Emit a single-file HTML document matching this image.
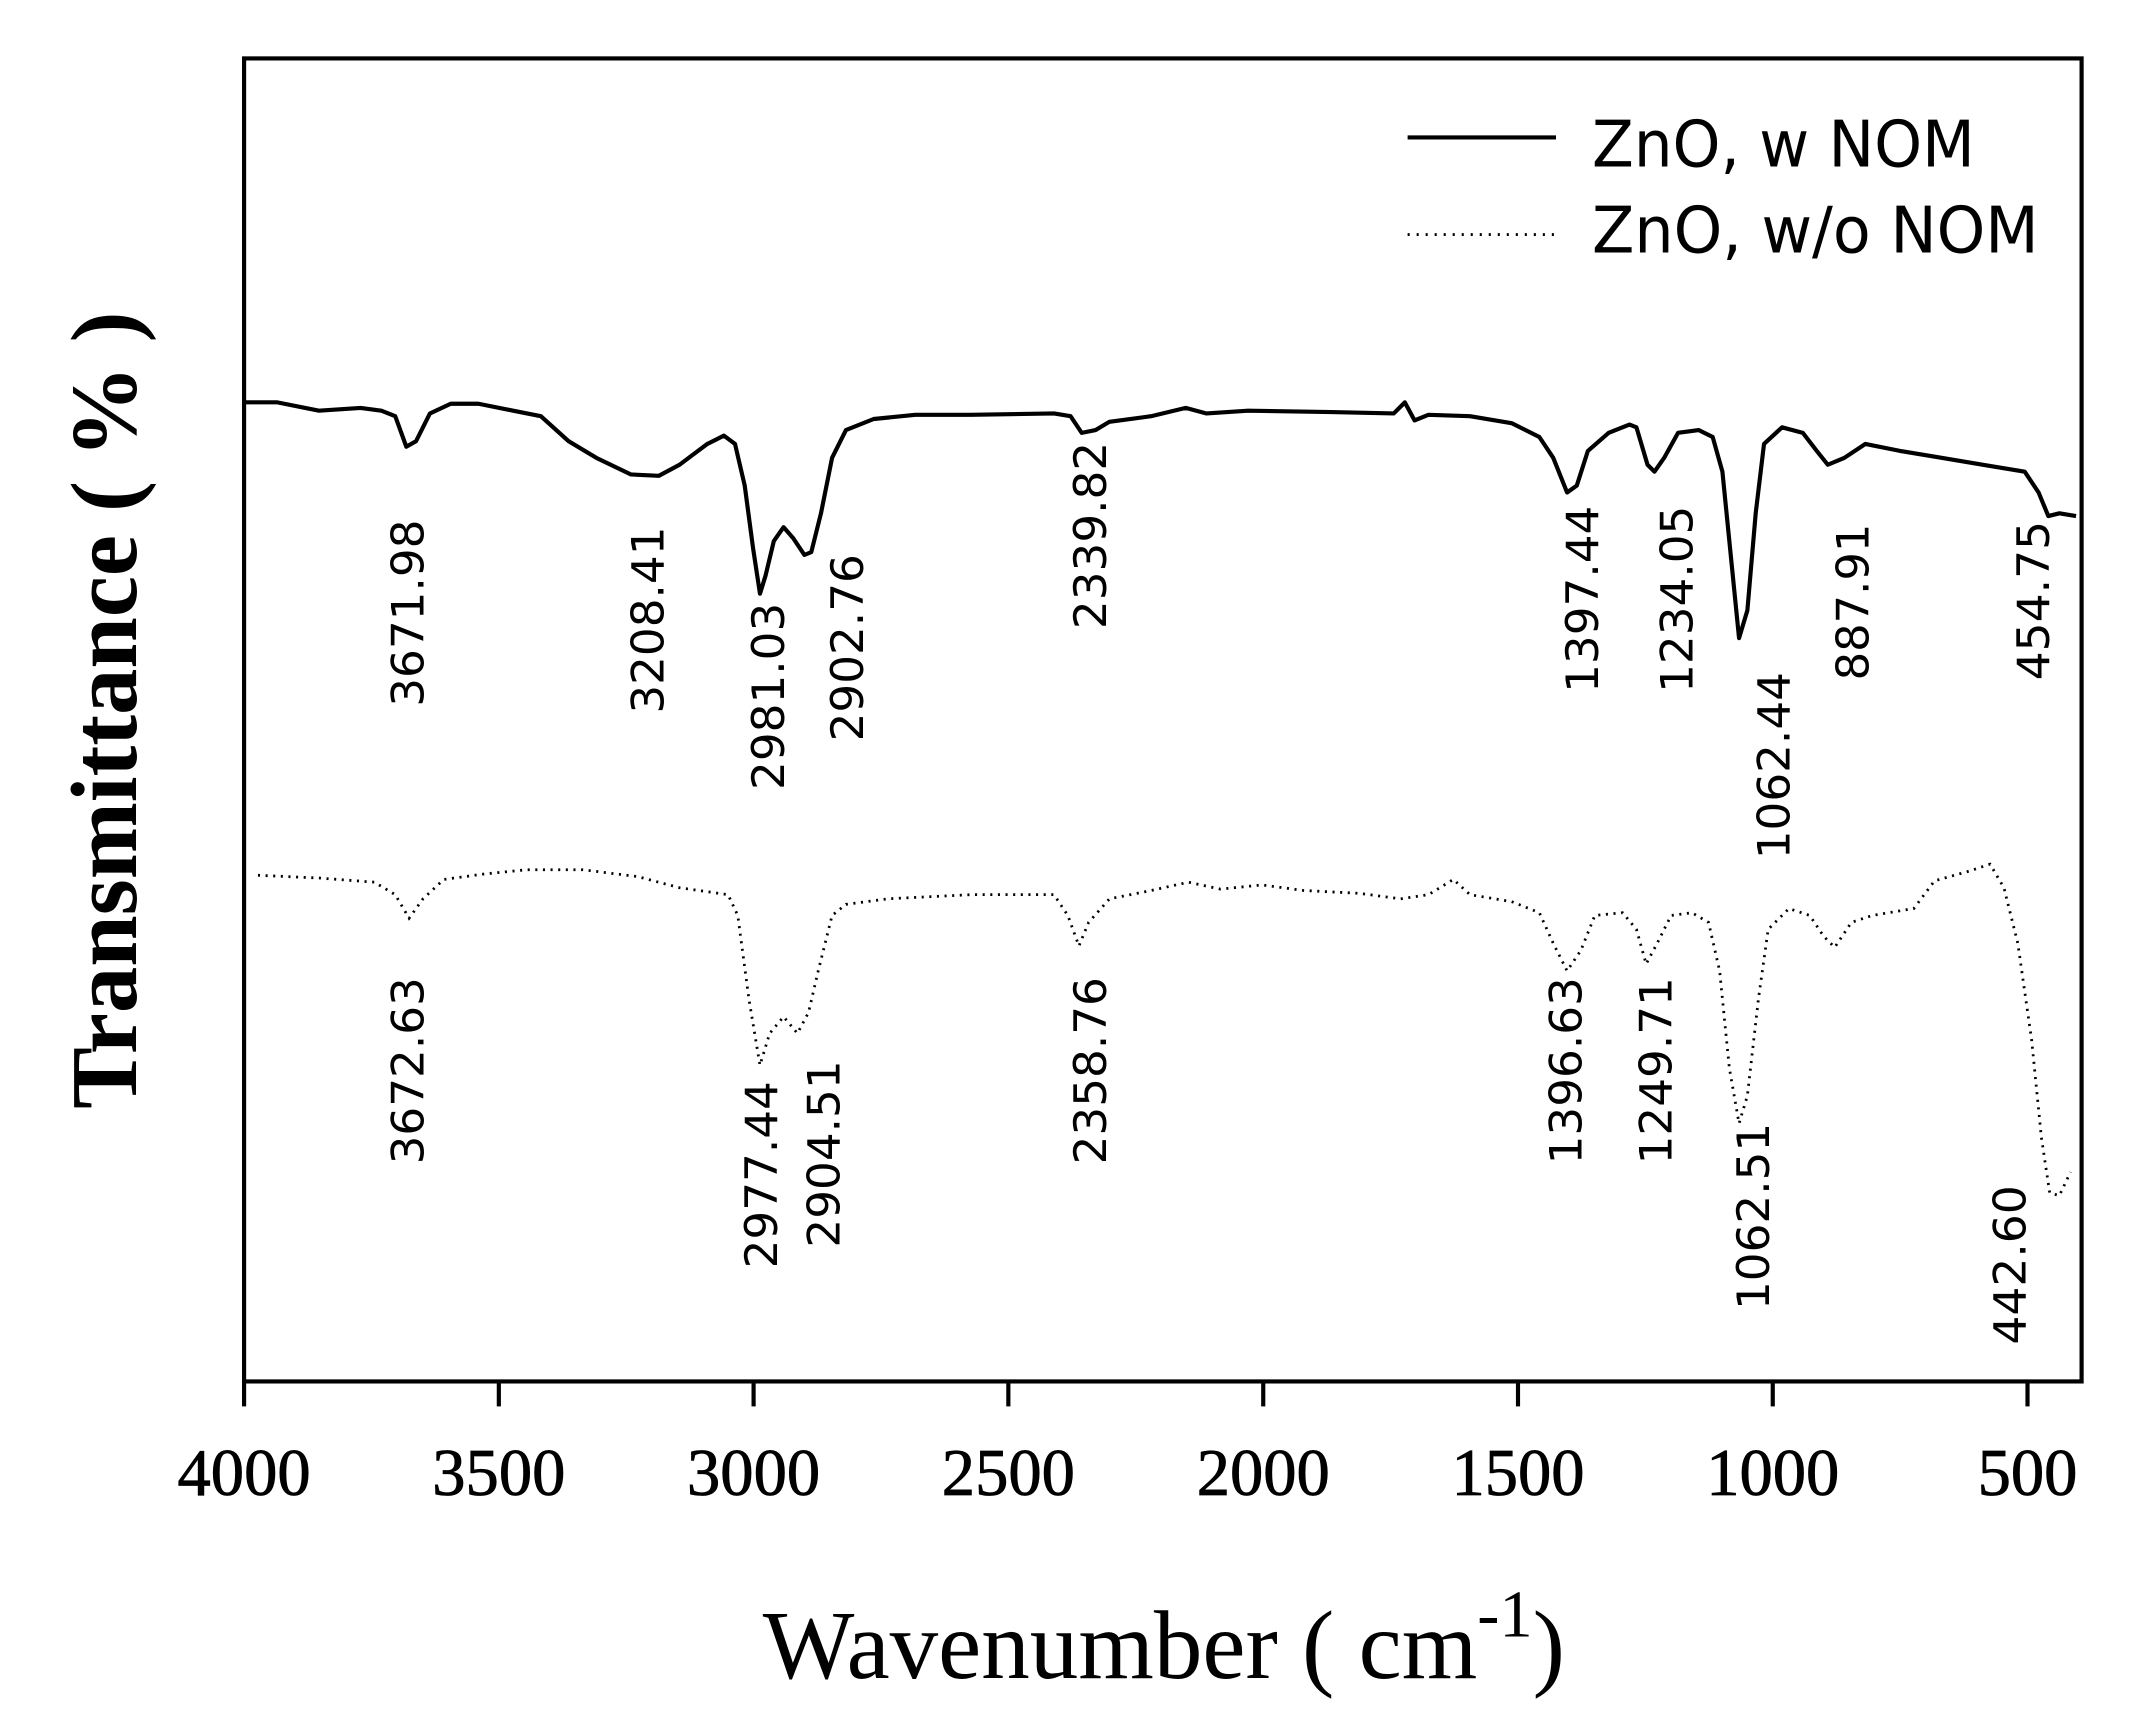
<!DOCTYPE html>
<html><head><meta charset="utf-8"><style>html,body{margin:0;padding:0;background:#fff}svg{display:block}</style></head>
<body>
<svg width="2144" height="1720" viewBox="0 0 1546 1240" xmlns="http://www.w3.org/2000/svg">
<rect width="1546" height="1240" fill="#fff"/>
<rect x="176" y="42" width="1325" height="954" fill="none" stroke="#000" stroke-width="3"/>
<g stroke="#000" stroke-width="3">
<line x1="176" y1="996" x2="176" y2="1014"/><line x1="359.7" y1="996" x2="359.7" y2="1014"/><line x1="543.4" y1="996" x2="543.4" y2="1014"/><line x1="727.1" y1="996" x2="727.1" y2="1014"/><line x1="910.9" y1="996" x2="910.9" y2="1014"/><line x1="1094.6" y1="996" x2="1094.6" y2="1014"/><line x1="1278.3" y1="996" x2="1278.3" y2="1014"/><line x1="1462" y1="996" x2="1462" y2="1014"/>
</g>
<g font-family="Liberation Serif, serif" font-size="48" text-anchor="middle" stroke="#000" stroke-width="0.6">
<text x="176" y="1078">4000</text><text x="359.7" y="1078">3500</text><text x="543.4" y="1078">3000</text><text x="727.1" y="1078">2500</text><text x="910.9" y="1078">2000</text><text x="1094.6" y="1078">1500</text><text x="1278.3" y="1078">1000</text><text x="1462" y="1078">500</text>
</g>
<text x="550" y="1210" font-family="Liberation Serif, serif" font-size="70">Wavenumber ( cm<tspan dy="-30" font-size="48">-1</tspan><tspan dy="30">)</tspan></text>
<text transform="translate(98,512) rotate(-90)" text-anchor="middle" font-family="Liberation Serif, serif" font-weight="bold" font-size="68" textLength="575" lengthAdjust="spacingAndGlyphs">Transmittance ( % )</text>
<line x1="1015" y1="99" x2="1122" y2="99" stroke="#000" stroke-width="3"/>
<line x1="1015" y1="169" x2="1122" y2="169" stroke="#000" stroke-width="2" stroke-dasharray="1.5 5"/>
<g font-family="DejaVu Sans Condensed, DejaVu Sans, sans-serif" font-size="46">
<text x="1148" y="120" textLength="276" lengthAdjust="spacingAndGlyphs">ZnO, w NOM</text>
<text x="1148" y="182" textLength="322" lengthAdjust="spacingAndGlyphs">ZnO, w/o NOM</text>
</g>
<polyline fill="none" stroke="#000" stroke-width="3" stroke-linejoin="round" points="176,290 200,290 230,296 260,294 275,296 285,300 293,322 300,318 310,298 325,291 345,291 370,296 390,300 410,318 430,330 455,342 475,343 490,335 510,320 522,314 530,320 537,350 543,395 548,428 552,415 558,390 565,380 572,388 580,400 585,398 592,370 600,330 610,310 630,302 660,299 700,299 760,298 772,300 780,312 790,310 800,304 830,300 855,294 870,298 900,296 960,297 1005,298 1013,290 1020,303 1030,299 1060,300 1090,305 1110,315 1120,330 1130,355 1137,350 1145,325 1160,312 1175,306 1180,308 1188,335 1193,340 1200,330 1210,312 1225,310 1235,315 1242,340 1248,400 1254,460 1260,440 1266,370 1272,320 1285,308 1300,312 1310,325 1318,335 1330,330 1345,320 1370,325 1400,330 1430,335 1460,340 1470,355 1477,372 1485,370 1497,372"/>
<polyline fill="none" stroke="#000" stroke-width="2" stroke-dasharray="1.5 4" points="186,631 230,633 270,636 285,645 295,662 305,648 320,634 350,630 380,627 420,627 460,632 490,640 525,645 532,660 540,720 548,768 555,745 565,733 575,745 583,730 590,700 600,660 610,652 640,648 700,645 760,645 770,660 778,682 785,665 800,648 830,642 857,636 880,641 910,638 940,642 980,644 1010,648 1030,645 1048,634 1060,645 1090,650 1110,658 1120,680 1130,700 1140,685 1150,660 1170,658 1180,670 1187,695 1195,680 1205,660 1220,658 1232,665 1240,700 1247,770 1254,810 1260,790 1268,720 1275,670 1290,655 1305,660 1315,675 1323,683 1335,665 1350,660 1380,655 1395,635 1420,628 1435,623 1445,640 1455,680 1465,750 1472,820 1478,860 1485,862 1493,845"/>
<g font-family="DejaVu Sans, sans-serif" font-size="32" text-anchor="middle" dominant-baseline="central">
<text transform="translate(295,442) rotate(-90)" textLength="135" lengthAdjust="spacingAndGlyphs">3671.98</text>
<text transform="translate(468,447) rotate(-90)" textLength="135" lengthAdjust="spacingAndGlyphs">3208.41</text>
<text transform="translate(555,502) rotate(-90)" textLength="135" lengthAdjust="spacingAndGlyphs">2981.03</text>
<text transform="translate(612,467) rotate(-90)" textLength="135" lengthAdjust="spacingAndGlyphs">2902.76</text>
<text transform="translate(787,386) rotate(-90)" textLength="135" lengthAdjust="spacingAndGlyphs">2339.82</text>
<text transform="translate(1142,432) rotate(-90)" textLength="135" lengthAdjust="spacingAndGlyphs">1397.44</text>
<text transform="translate(1210,432) rotate(-90)" textLength="135" lengthAdjust="spacingAndGlyphs">1234.05</text>
<text transform="translate(1280,552) rotate(-90)" textLength="135" lengthAdjust="spacingAndGlyphs">1062.44</text>
<text transform="translate(1337,434) rotate(-90)" textLength="113" lengthAdjust="spacingAndGlyphs">887.91</text>
<text transform="translate(1467,433) rotate(-90)" textLength="115" lengthAdjust="spacingAndGlyphs">454.75</text>
<text transform="translate(295,772) rotate(-90)" textLength="135" lengthAdjust="spacingAndGlyphs">3672.63</text>
<text transform="translate(550,847) rotate(-90)" textLength="135" lengthAdjust="spacingAndGlyphs">2977.44</text>
<text transform="translate(595,832) rotate(-90)" textLength="135" lengthAdjust="spacingAndGlyphs">2904.51</text>
<text transform="translate(787,772) rotate(-90)" textLength="135" lengthAdjust="spacingAndGlyphs">2358.76</text>
<text transform="translate(1130,772) rotate(-90)" textLength="135" lengthAdjust="spacingAndGlyphs">1396.63</text>
<text transform="translate(1195,772) rotate(-90)" textLength="135" lengthAdjust="spacingAndGlyphs">1249.71</text>
<text transform="translate(1265,877) rotate(-90)" textLength="135" lengthAdjust="spacingAndGlyphs">1062.51</text>
<text transform="translate(1450,912) rotate(-90)" textLength="115" lengthAdjust="spacingAndGlyphs">442.60</text>
</g>
</svg>
</body></html>
